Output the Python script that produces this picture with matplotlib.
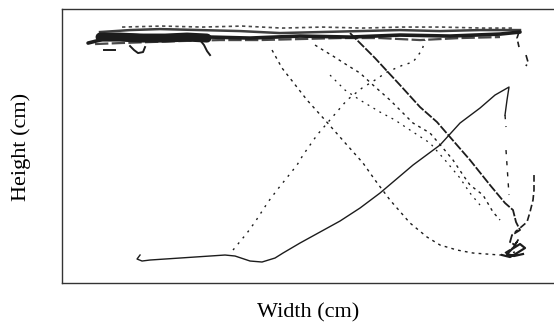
import matplotlib.pyplot as plt

nan = float('nan')

# fish track in a tank, positions in cm (x = width, y = height)
# top band, several overlapping passes along the surface
band_core_x = [5.2, 7.6, 9.6, 12.6, 17.6, 23.6, 29.6, 37.6, 47.6, 57.6, 67.6, 77.6, 87.6, 91.6]
band_core_y = [47.8, 48.4, 49.2, 49.4, 49.2, 49.0, 49.0, 48.8, 49.2, 49.0, 49.4, 49.2, 49.6, 50.0]
band_up_x = [7.6, 13.6, 19.6, 27.6, 35.6, 43.6, 51.6, 59.6, 67.6, 75.6, 83.6, 91.6]
band_up_y = [50.0, 50.4, 50.6, 50.4, 50.2, 49.8, 50.0, 50.2, 50.4, 50.2, 50.4, 50.4]
band_low_x = [6.6, 11.6, 17.6, 23.6, 31.6, 39.6, 47.6, 55.6, 63.6, 71.6, 79.6, 87.6]
band_low_y = [47.6, 47.8, 48.0, 48.2, 48.4, 48.4, 48.6, 48.8, 48.8, 48.4, 48.8, 49.0]
band_top_x = [12.0, 20.0, 28.0, 36.0, 44.0, 52.0, 60.0, 68.0, 76.0, 84.0, 90.0]
band_top_y = [51.0, 51.2, 51.0, 51.2, 50.8, 51.0, 50.8, 51.0, 51.0, 50.8, 50.8]
blob_x = [7.6, 11.6, 15.6, 20.6, 25.0, 29.0]
blob_y = [49.0, 49.0, 48.8, 48.8, 49.0, 48.8]
hook1_x = [13.6, 14.4, 15.2, 16.2, 16.6]
hook1_y = [47.2, 46.4, 45.8, 46.0, 47.0]
hook2_x = [27.6, 28.4, 29.0, 29.6]
hook2_y = [48.4, 47.4, 46.2, 45.4]
dash_x = [8.4, 10.6]
dash_y = [46.4, 46.4]

# bottom run, then up to the right
a_x = [15.6, 15.0, 16.0, 17.6, 23.6, 29.6, 32.6, 34.6, 37.6, 40.0, 42.6, 44.2, 47.6, 51.6,
       55.6, 59.6, 63.6, 70.2, 75.6, 79.6, 83.6, 86.6, 89.4, 89.0, 88.6]
a_y = [5.4, 4.6, 4.2, 4.4, 4.8, 5.2, 5.4, 5.2, 4.2, 4.0, 4.8, 5.8, 7.8, 10.0,
       12.2, 14.8, 17.8, 23.4, 27.4, 31.8, 34.8, 37.4, 39.0, 36.4, 33.4]

# dotted climb from the bottom to the surface
c_x = [34.2, 37.0, 38.6, 41.2, 43.0, 47.0, 48.2, 51.0, 57.0, 60.0, 62.6, 65.0, 68.2, 70.2, 72.0, 72.6]
c_y = [6.4, 9.8, 12.0, 16.0, 18.4, 23.4, 25.4, 29.4, 36.4, 38.8, 40.4, 42.0, 43.4, 44.0, 46.4, 48.4]

# dark dive from the surface to the lower right corner
b_x = [57.6, 60.0, 62.6, 65.0, 67.6, 71.6, 75.0, 77.6, 81.6, 85.6, 88.6, 90.2, 90.8, 91.6,
       90.0, 89.6, 90.6, 91.2, 90.2, 88.6]
b_y = [49.8, 47.4, 44.8, 42.2, 39.4, 35.0, 32.0, 29.0, 24.4, 19.4, 15.8, 14.4, 12.0, 10.4,
       9.4, 8.0, 7.4, 8.4, 6.8, 5.8]
corner_x = [88.0, 89.6, 91.0, 92.6, 91.6, 90.0, 89.0, 90.4, 92.2]
corner_y = [5.4, 5.0, 5.8, 6.8, 7.6, 6.6, 5.6, 5.2, 5.6]

# dotted dive, ends along the bottom
d_x = [42.0, 44.0, 46.2, 49.0, 52.6, 57.0, 60.2, 62.6, 65.6, 69.6, 73.0, 75.6, 79.0, 82.2, 87.6, 90.6]
d_y = [46.4, 42.8, 40.0, 36.4, 32.4, 27.4, 23.8, 20.4, 16.4, 11.8, 9.0, 7.4, 6.4, 5.8, 5.4, 6.0]

# two fainter dives next to the dark one
e1_x = [50.6, 52.2, 54.2, 57.0, 59.6, 62.2, 65.6, 68.2, 70.2, 73.6, 76.2, 78.2, 80.2, 81.6, 84.2, 86.2, 87.6]
e1_y = [47.4, 46.4, 45.2, 43.4, 41.8, 39.4, 36.4, 33.8, 31.8, 29.8, 26.8, 24.4, 21.4, 19.4, 17.4, 14.0, 12.4]
e2_x = [53.6, 56.6, 59.6, 63.6, 66.6, 69.6, 73.6, 76.6, 79.6, 81.6, 83.6]
e2_y = [41.4, 38.4, 36.4, 34.0, 32.4, 30.4, 27.8, 24.4, 20.8, 17.8, 15.4]

# right wall, surface down to the corner (gap in the middle)
r_x = [91.4, 91.0, 91.4, nan, 92.8, 93.2, 92.8, nan, 94.4, 94.4, 94.2, 93.6, 93.0, 91.6, 90.6]
r_y = [50.0, 48.8, 47.0, nan, 45.4, 44.0, 43.2, nan, 21.4, 18.4, 16.4, 14.0, 12.0, 10.8, 10.0]
v_x = [88.6, 88.8, nan, 88.8, 89.0, 89.2, 89.4]
v_y = [33.4, 31.0, nan, 26.4, 23.4, 20.4, 17.4]

ink = '#1c1c1c'

fig = plt.figure(figsize=(5.54, 3.24), dpi=100)
ax = fig.add_axes([0.112, 0.1265, 0.888, 0.8455])

ax.plot(band_top_x, band_top_y, color=ink, lw=1.2, dashes=(2, 2), alpha=0.8)
ax.plot(band_up_x, band_up_y, color=ink, lw=1.8, alpha=0.85)
ax.plot(band_low_x, band_low_y, color=ink, lw=1.6, alpha=0.8, dashes=(6, 1.5))
ax.plot(band_core_x, band_core_y, color=ink, lw=2.6, solid_capstyle='round')
ax.plot(blob_x, blob_y, color=ink, lw=6.5, solid_capstyle='round')
for hx, hy in [(hook1_x, hook1_y), (hook2_x, hook2_y), (dash_x, dash_y)]:
    ax.plot(hx, hy, color=ink, lw=1.4)

ax.plot(a_x, a_y, color=ink, lw=1.0)
ax.plot(b_x, b_y, color=ink, lw=1.3, dashes=(5, 1))
ax.plot(corner_x, corner_y, color=ink, lw=1.6)
ax.plot(c_x, c_y, color=ink, lw=1.0, dashes=(1.5, 4))
ax.plot(d_x, d_y, color=ink, lw=1.0, dashes=(2, 3))
ax.plot(e1_x, e1_y, color=ink, lw=1.0, dashes=(2, 3))
ax.plot(e2_x, e2_y, color=ink, lw=0.9, dashes=(1.5, 4))
ax.plot(r_x, r_y, color=ink, lw=1.2, dashes=(4, 2))
ax.plot(v_x, v_y, color=ink, lw=1.0, dashes=(3, 5))

ax.set_xlim(0, 98.4)
ax.set_ylim(-0.2, 54.6)
ax.set_xticks([])
ax.set_yticks([])
ax.spines['right'].set_visible(False)
for s in ['left', 'top', 'bottom']:
    ax.spines[s].set_color('#333333')
    ax.spines[s].set_linewidth(1.0)

fig.text(0.557, 0.034, 'Width (cm)', family='Liberation Serif', fontsize=16,
         ha='center', va='center')
fig.text(0.038, 0.545, 'Height (cm)', family='Liberation Serif', fontsize=16,
         ha='center', va='center', rotation=90)

fig.savefig('out.png', dpi=100)
